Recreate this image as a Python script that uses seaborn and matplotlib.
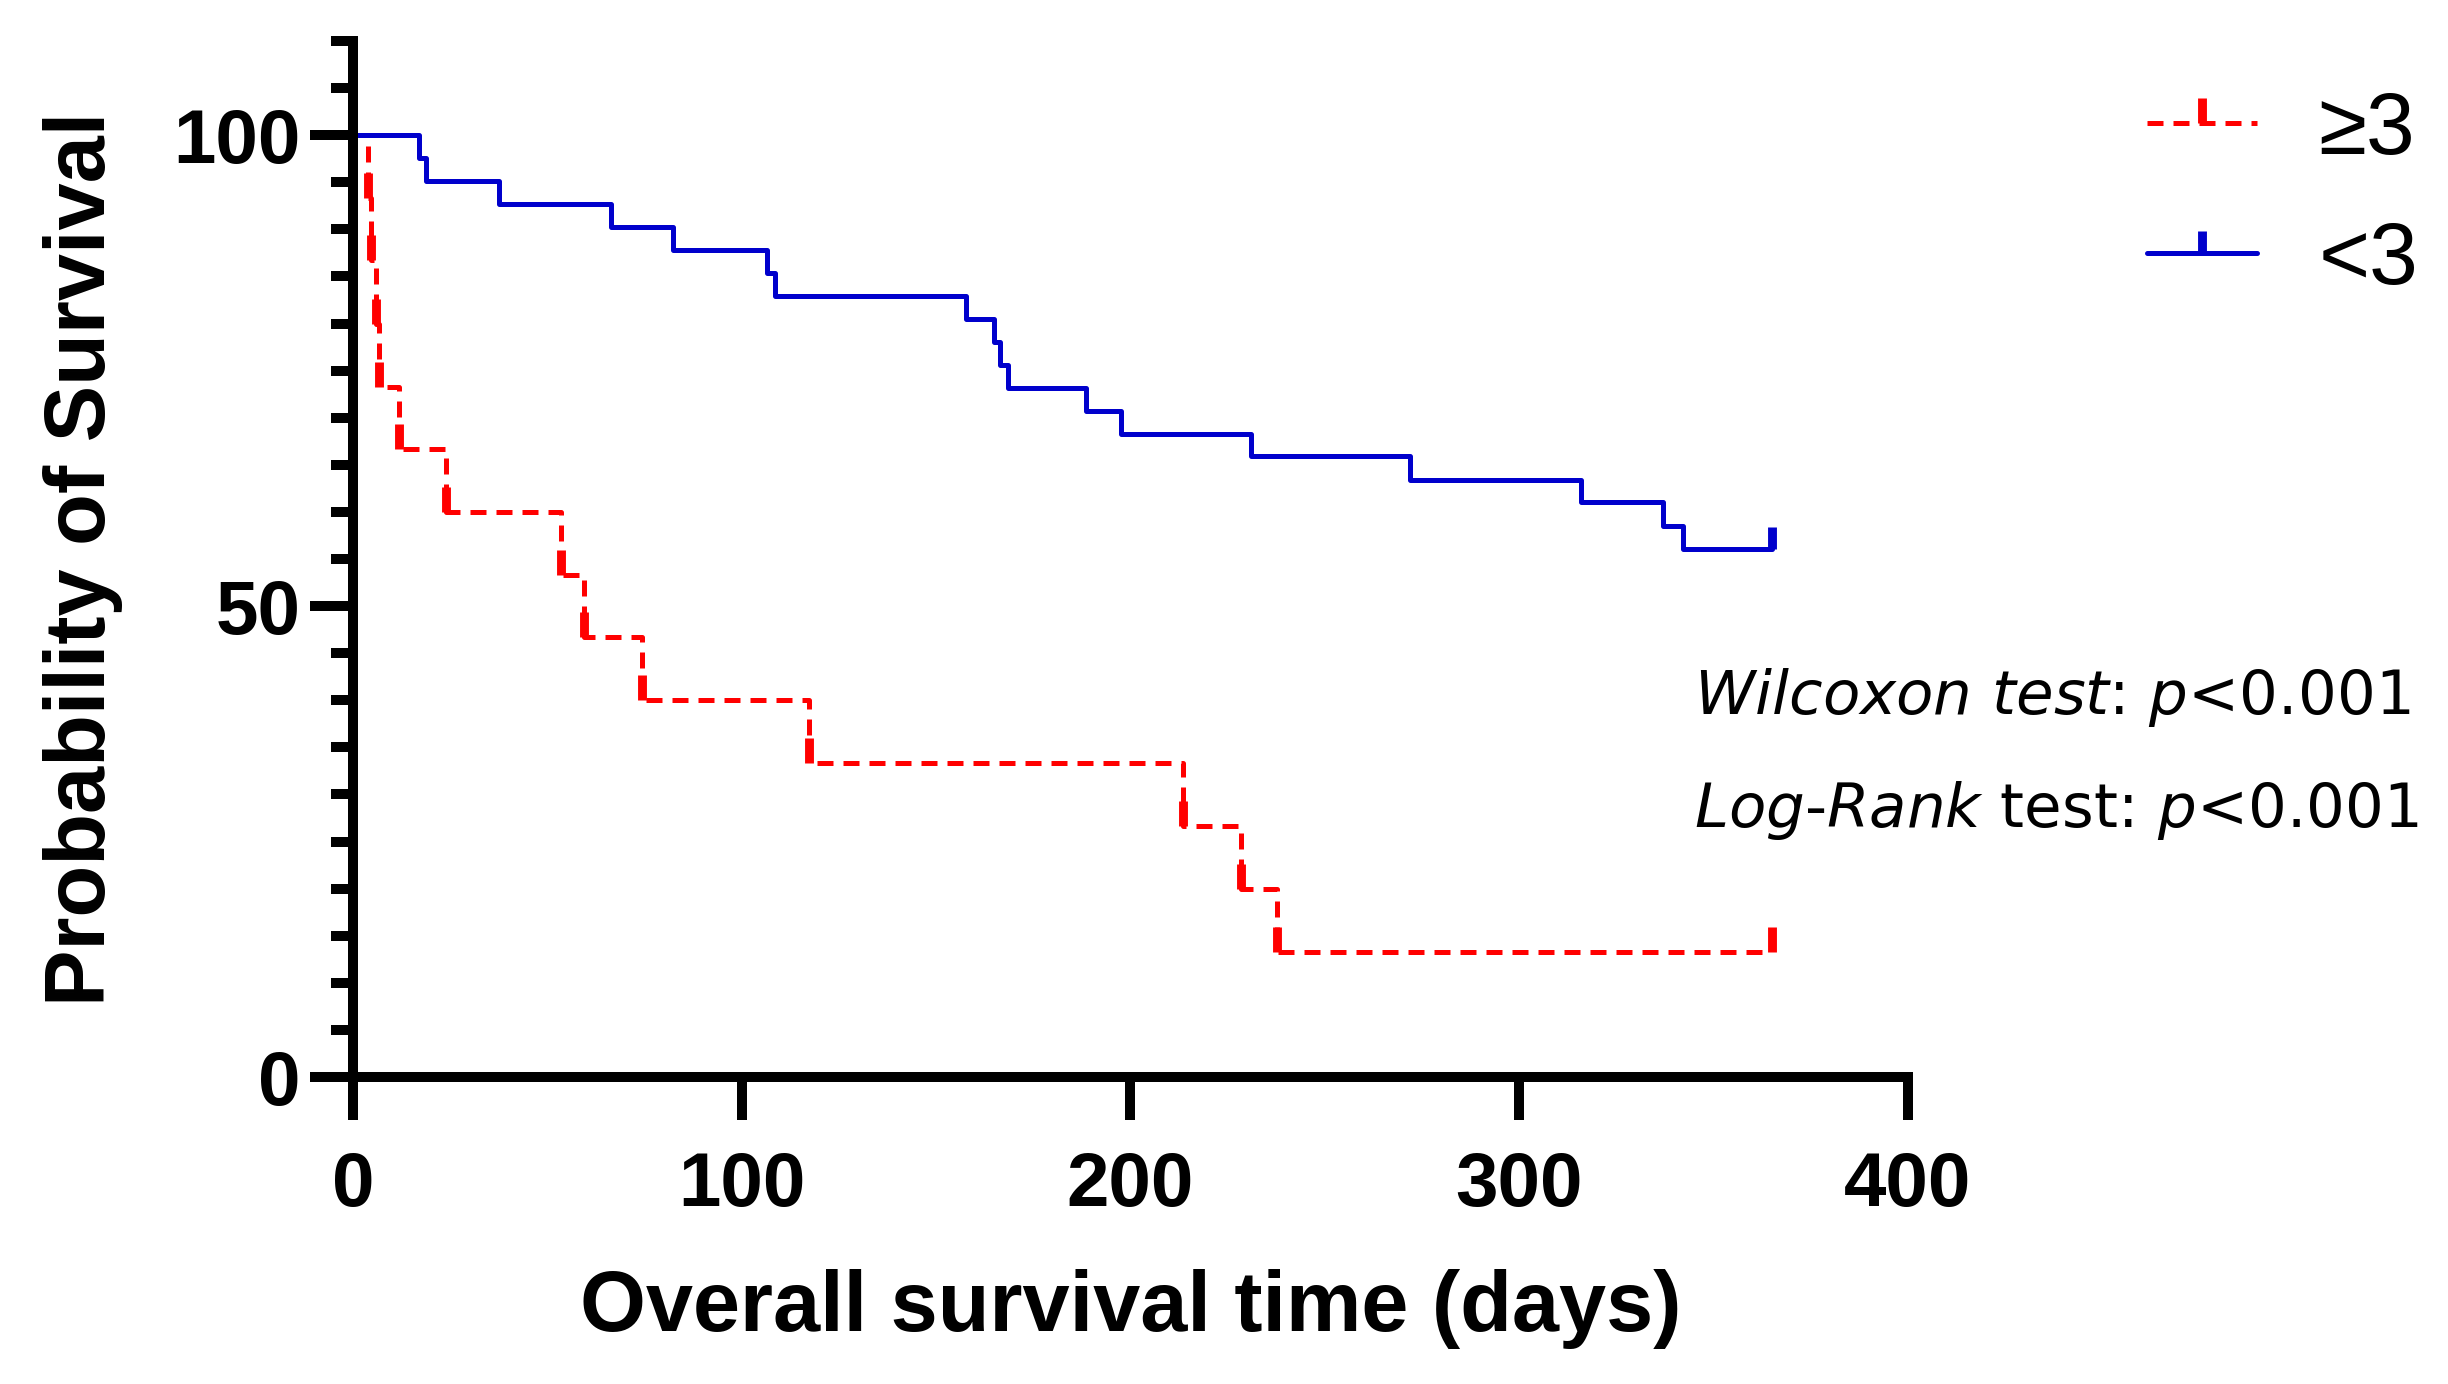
## Kaplan-Meier style survival curves, redrawn from the figure

import numpy as np
import pandas as pd
import seaborn as sns
from matplotlib import pyplot as plt
from matplotlib.lines import Line2D
from matplotlib.path import Path
from matplotlib.ticker import MultipleLocator

# steps: days, % surviving (last point = censored at 365)
hi_time = [0, 3.8, 4.6, 5.9, 6.8, 11.9, 24.0, 53.5, 59.5, 74.3, 117.4, 213.5, 228.4, 237.6, 365]
hi_surv = [100, 93.3, 86.7, 80.0, 73.3, 66.7, 60.0, 53.3, 46.7, 40.0, 33.3, 26.7, 20.0, 13.3, 13.3]

lo_time = [0, 17.0, 18.8, 37.5, 66.3, 82.3, 106.5, 108.5, 157.8, 164.8, 166.5, 168.6,
           188.6, 197.6, 230.9, 272.0, 315.8, 337.0, 342.0, 365]
lo_surv = [100, 97.6, 95.1, 92.7, 90.2, 87.8, 85.4, 82.9, 80.5, 78.0, 75.6, 73.2,
           70.7, 68.3, 65.9, 63.4, 61.0, 58.5, 56.1, 56.1]

groups = ["≥3", "<3"]
colors = {"≥3": "#FF0000", "<3": "#0000CC"}
dash_map = {"≥3": (3.2, 2.0), "<3": ""}

df = pd.concat([
    pd.DataFrame({'time': hi_time, 'surv': hi_surv, 'group': groups[0]}),
    pd.DataFrame({'time': lo_time, 'surv': lo_surv, 'group': groups[1]}),
])

sns.set_style("ticks")
plt.rcParams['font.family'] = ['Liberation Sans', 'DejaVu Sans']
plt.rcParams['text.color'] = 'black'
plt.rcParams['axes.labelcolor'] = 'black'
plt.rcParams['xtick.color'] = 'black'
plt.rcParams['ytick.color'] = 'black'

fig = plt.figure(figsize=(12.24, 6.92), dpi=200)
ax = fig.add_axes([0.1442, 0.2218, 0.6352, 0.7486])

sns.lineplot(data=df, x='time', y='surv', hue='group', style='group',
             palette=colors, dashes=dash_map, drawstyle='steps-post',
             estimator=None, sort=False, lw=1.8, legend=False, ax=ax)

# tick marks: red at every drop + censor, blue only at censor
tick = Path([(0, 0), (0, 1)])
ax.plot(hi_time[1:], hi_surv[1:], ls='none', marker=tick, ms=18, mew=3.2,
        mec=colors["≥3"], clip_on=False)
ax.plot(lo_time[-1:], lo_surv[-1:], ls='none', marker=tick, ms=16, mew=3.2,
        mec=colors["<3"], clip_on=False)

ax.set_xlim(0, 400)
ax.set_ylim(0, 110)
ax.set_xticks([0, 100, 200, 300, 400])
ax.set_yticks([0, 50, 100])
ax.yaxis.set_minor_locator(MultipleLocator(5))

for s in ['top', 'right']:
    ax.spines[s].set_visible(False)
for s in ['left', 'bottom']:
    ax.spines[s].set_linewidth(3.6)
    ax.spines[s].set_color('black')

ax.tick_params(axis='both', which='major', direction='out', length=15.5, width=3.6,
               color='black', labelcolor='black', labelsize=27.5)
ax.tick_params(axis='y', which='minor', direction='out', length=8, width=3.6, color='black')
ax.tick_params(axis='x', pad=11)
ax.tick_params(axis='y', pad=3.5)
for lbl in ax.get_xticklabels() + ax.get_yticklabels():
    lbl.set_fontweight('bold')

ax.set_xlabel('Overall survival time (days)', fontsize=30.5, fontweight='bold',
              labelpad=17, color='black')
ax.set_ylabel('Probability of Survival', fontsize=30.5, fontweight='bold',
              labelpad=18, color='black')

ax.text(345, 38.5, r"$\mathit{Wilcoxon\ test}$: $\mathit{p}$<0.001",
        fontsize=22, family='DejaVu Sans', va='baseline', ha='left', color='black')
ax.text(345, 26.5, r"$\mathit{Log}$-$\mathit{Rank}$ test: $\mathit{p}$<0.001",
        fontsize=22, family='DejaVu Sans', va='baseline', ha='left', color='black')

handles = [
    Line2D([], [], color=colors["≥3"], lw=1.8, linestyle=(0, dash_map["≥3"]),
           marker=tick, ms=18, mew=3.2, mec=colors["≥3"]),
    Line2D([], [], color=colors["<3"], lw=1.8, marker=tick, ms=16, mew=3.2,
           mec=colors["<3"]),
]
leg = ax.legend(handles, groups, loc='center left', bbox_to_anchor=(0.877, 0.858),
                bbox_transform=fig.transFigure, frameon=False, fontsize=31.5,
                handlelength=1.26, handletextpad=0.7, labelspacing=0.56,
                borderpad=0, borderaxespad=0)
for t in leg.get_texts():
    t.set_color('black')

fig.savefig('out.png', dpi=200)
